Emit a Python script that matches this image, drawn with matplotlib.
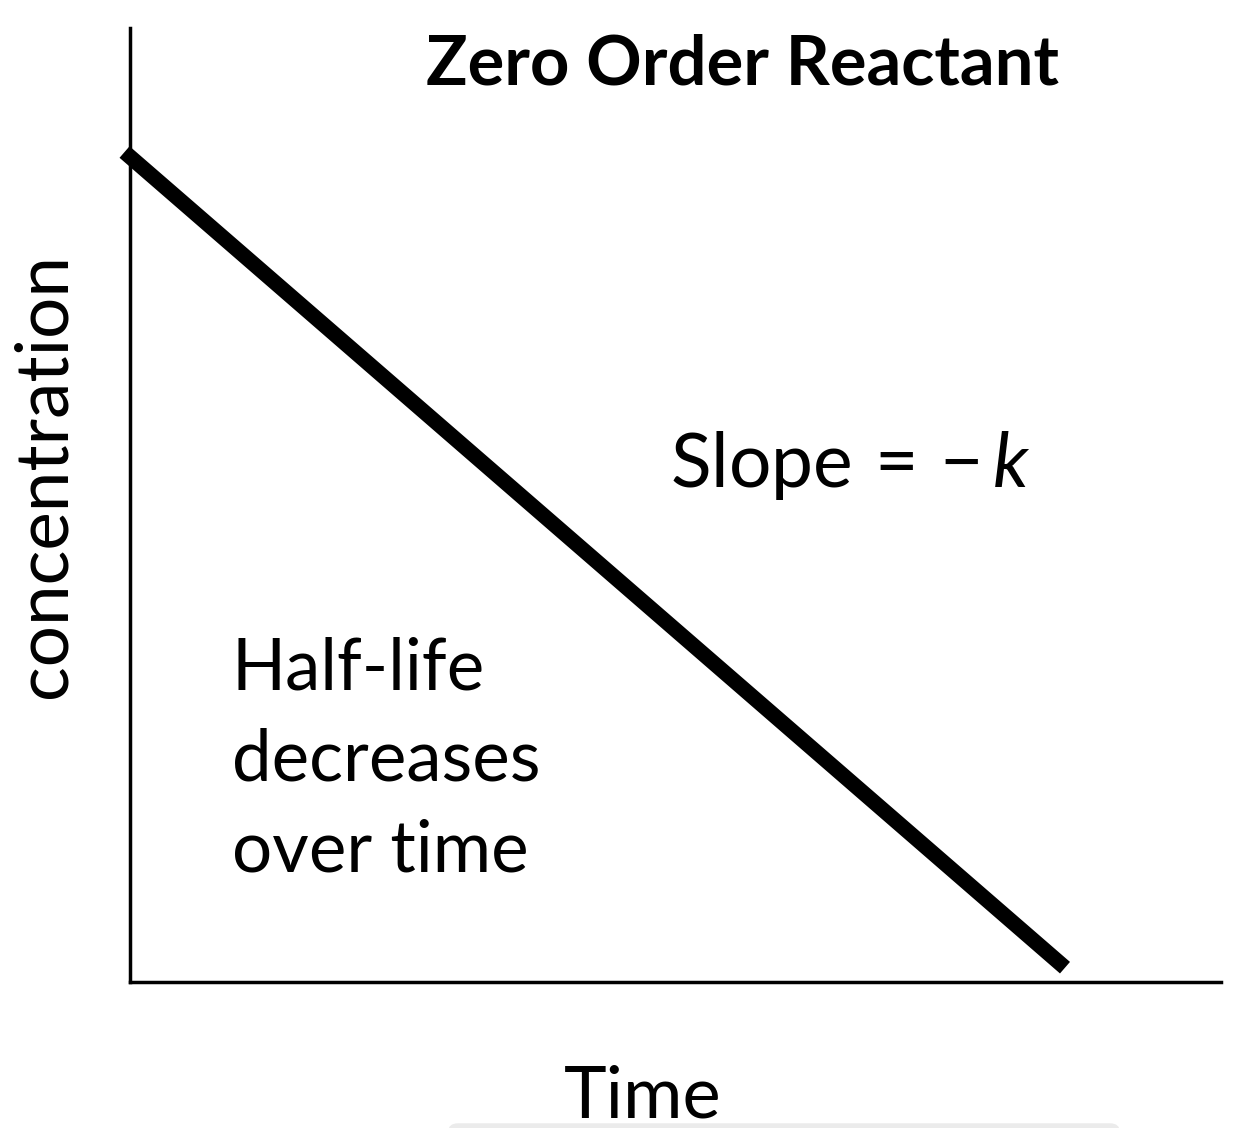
import matplotlib
matplotlib.use('Agg')
import matplotlib.pyplot as plt
from matplotlib.patches import FancyBboxPatch

plt.rcParams['font.family'] = ['Lato', 'DejaVu Sans']
plt.rcParams['mathtext.fontset'] = 'custom'
plt.rcParams['mathtext.rm'] = 'Lato'
plt.rcParams['mathtext.it'] = 'Lato:italic'

# Data: concentration falls linearly with time (zero order)
time = [-0.005, 0.857]
conc = [0.870, 0.015]

title = 'Zero Order Reactant'
slope_label = r'$\mathrm{Slope}\,=\,{-\,k}$'
note = 'Half-life\ndecreases\nover time'

fig = plt.figure(figsize=(12.56, 11.28), dpi=100)
ax = fig.add_axes([130/1256, 146/1128, 1091/1256, 954/1128])
ax.plot(time, conc, color='black', lw=11, solid_capstyle='butt', clip_on=False)
ax.set_xlim(0, 1)
ax.set_ylim(0, 1)
ax.set_xticks([])
ax.set_yticks([])
for s in ['top', 'right']:
    ax.spines[s].set_visible(False)
for s in ['left', 'bottom']:
    ax.spines[s].set_linewidth(2.5)

fig.text(743/1256, 1 - 65/1128, title, ha='center', va='center', fontsize=49.5, fontweight='bold')
fig.text(670/1256, 1 - 487/1128, slope_label, ha='left', va='baseline', fontsize=54)
fig.text(232/1256, 1 - 872/1128, note, ha='left', va='baseline', fontsize=51, linespacing=1.5)
fig.text(45/1256, 1 - 475/1128, 'concentration', ha='center', va='center', rotation=90, fontsize=52.5)
fig.text(643/1256, 1 - 1097/1128, 'Time', ha='center', va='center', fontsize=52)

# faint grey bar at the bottom edge
fig.patches.append(FancyBboxPatch((448/1256, -0.01), 672/1256, 16/1128,
                                  boxstyle='round,pad=0,rounding_size=0.008',
                                  transform=fig.transFigure, facecolor='#ebebeb',
                                  edgecolor='none'))

fig.savefig('out.png', dpi=100)
